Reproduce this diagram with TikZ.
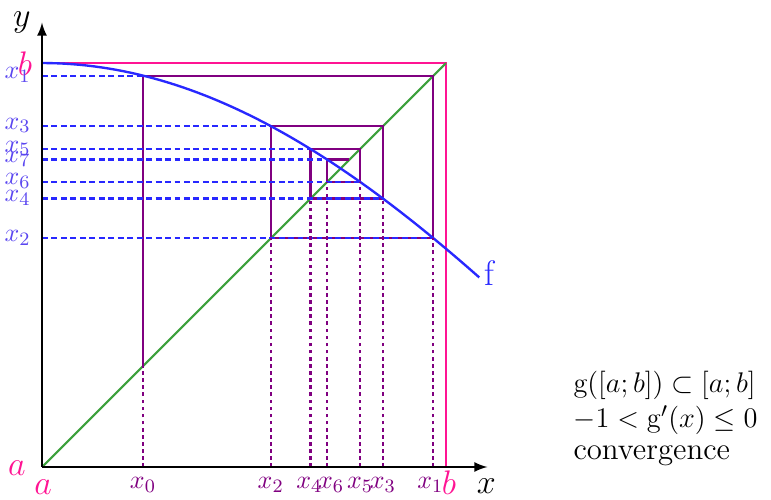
\documentclass[tikz,border=0pt]{standalone}
\usepackage{amsmath, amssymb}
\definecolor{fcol}{RGB}{40,40,255}
\definecolor{webcol}{RGB}{128,0,128}
\definecolor{boxcol}{RGB}{255,20,147}
\definecolor{diagcol}{RGB}{60,160,60}
\definecolor{labcol}{RGB}{90,70,240}

\begin{document}
\begin{tikzpicture}[x=1.5cm, y=1.5cm,
    web/.style={webcol, line width=0.9pt},
    guide/.style={fcol, line width=0.9pt, dash pattern=on 2.5pt off 1.5pt},
    drop/.style={webcol, line width=0.9pt, dash pattern=on 1.5pt off 1.5pt},
    ylab/.style={anchor=base east, text=labcol, font=\fontsize{11}{13}\selectfont},
    xlab/.style={anchor=base, text=webcol, font=\fontsize{11}{13}\selectfont},
    endlab/.style={text=boxcol, font=\fontsize{15}{18}\selectfont},
    note/.style={anchor=base west, font=\fontsize{13}{15}\selectfont}]
    \useasboundingbox (-0.416,-0.317) rectangle (7.218,4.624);
    % iterates x_{n+1} = f(x_n)
    \def\xa{1} \def\xb{3.8756} \def\xc{2.2648} \def\xd{3.3758}
    \def\xe{2.6581} \def\xf{3.1489} \def\xg{2.8233} \def\xh{3.0443}
    \draw[boxcol, line width=0.8pt] (0,4) -- (4,4) -- (4,0);
    \draw[diagcol, line width=0.9pt] (0,0) -- (4,4);
    % cobweb
    \draw[web] (\xa,\xa) -- (\xa,\xb) -- (\xb,\xb) -- (\xb,\xc) -- (\xc,\xc)
        -- (\xc,\xd) -- (\xd,\xd) -- (\xd,\xe) -- (\xe,\xe) -- (\xe,\xf)
        -- (\xf,\xf) -- (\xf,\xg) -- (\xg,\xg) -- (\xg,\xh) -- (\xh,\xh);
    \draw[fcol, line width=1pt, domain=0:4.33, samples=60]
        plot (\x, {4*cos(deg(\x/4))});
    % guides to the y axis
    \draw[guide] (0,\xb) -- (\xa,\xb);
    \draw[guide] (0,\xc) -- (\xb,\xc);
    \draw[guide] (0,\xd) -- (\xc,\xd);
    \draw[guide] (0,\xe) -- (\xd,\xe);
    \draw[guide] (0,\xf) -- (\xe,\xf);
    \draw[guide] (0,\xg) -- (\xf,\xg);
    \draw[guide] (0,\xh) -- (\xg,\xh);
    % drops to the x axis
    \draw[drop] (\xa,0) -- (\xa,\xa);
    \draw[drop] (\xb,0) -- (\xb,\xc);
    \draw[drop] (\xc,0) -- (\xc,\xc);
    \draw[drop] (\xd,0) -- (\xd,\xe);
    \draw[drop] (\xe,0) -- (\xe,\xe);
    \draw[drop] (\xf,0) -- (\xf,\xg);
    \draw[drop] (\xg,0) -- (\xg,\xg);
    % axes
    \draw[-latex, line width=0.9pt] (0,0) -- (4.41,0);
    \draw[-latex, line width=0.9pt] (0,0) -- (0,4.4);
    \node[font=\fontsize{15}{18}\selectfont, anchor=base] (ylabel) at (-0.2,4.36) {$y$};
    \node[font=\fontsize{15}{18}\selectfont, anchor=base] (xlabel) at (4.4,-0.26) {$x$};
    \node[endlab, anchor=base east] (aleft) at (-0.08,-0.08) {$a$};
    \node[endlab, anchor=base] (abelow) at (0.01,-0.27) {$a$};
    \node[endlab, anchor=base] (bleft) at (-0.17,3.88) {$b$};
    \node[endlab, anchor=base] (bbelow) at (4.03,-0.27) {$b$};
    % labels on the y axis
    \node[ylab] (y1) at (-0.03,\xb-0.03) {$x_1$};
    \node[ylab] (y2) at (-0.03,\xc-0.03) {$x_2$};
    \node[ylab] (y3) at (-0.03,\xd-0.03) {$x_3$};
    \node[ylab] (y4) at (-0.03,\xe-0.03) {$x_4$};
    \node[ylab] (y5) at (-0.03,\xf-0.03) {$x_5$};
    \node[ylab] (y6) at (-0.03,\xg-0.03) {$x_6$};
    \node[ylab] (y7) at (-0.03,\xh-0.03) {$x_7$};
    % labels on the x axis
    \node[xlab] (t0) at (\xa,-0.21) {$x_0$};
    \node[xlab] (t1) at (\xb-0.03,-0.21) {$x_1$};
    \node[xlab] (t2) at (\xc,-0.21) {$x_2$};
    \node[xlab] (t3) at (\xd,-0.21) {$x_3$};
    \node[xlab] (t4) at (\xe-0.01,-0.21) {$x_4$};
    \node[xlab] (t5) at (\xf,-0.21) {$x_5$};
    \node[xlab] (t6) at (\xg+0.04,-0.21) {$x_6$};
    \node[text=fcol, font=\fontsize{15}{18}\selectfont, anchor=base] (flabel) at (4.43,1.8) {f};
    % conditions
    \node[note] (cond1) at (5.18,0.74) {$\mathrm{g}([a;b])\subset[a;b]$};
    \node[note] (cond2) at (5.18,0.39) {$-1<\mathrm{g}'(x)\leq 0$};
    \node[note] (cond3) at (5.18,0.07) {convergence};
\end{tikzpicture}
\end{document}
